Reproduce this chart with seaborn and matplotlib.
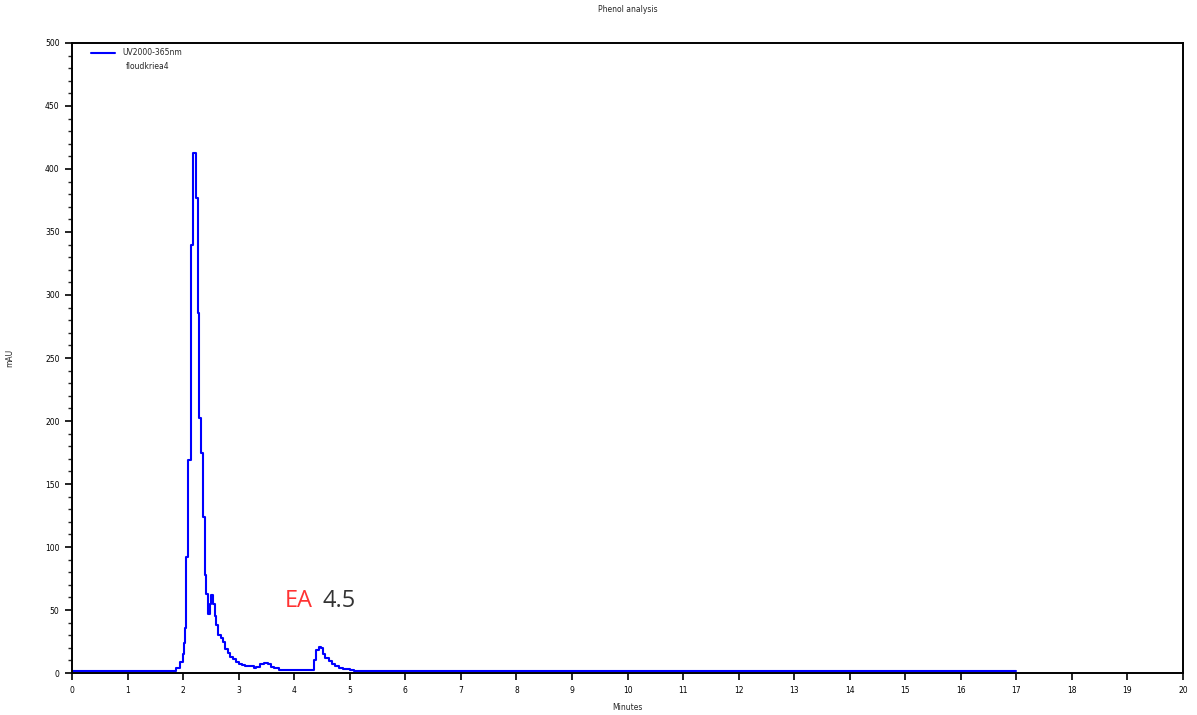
import matplotlib
matplotlib.use("Agg")
import matplotlib.pyplot as plt
from matplotlib.ticker import MultipleLocator
import seaborn as sns
import pandas as pd

# Chromatogram trace (retention time in minutes, absorbance in mAU)
time_min = [0.00, 1.82, 1.88, 1.94, 1.99, 2.01, 2.03, 2.05, 2.09, 2.14, 2.18,
            2.21, 2.23, 2.26, 2.29, 2.33, 2.36, 2.39, 2.42, 2.45, 2.48, 2.51,
            2.54, 2.57, 2.60, 2.63, 2.68, 2.72, 2.76, 2.80, 2.85, 2.90, 2.95,
            3.00, 3.06, 3.12, 3.20, 3.27, 3.32, 3.38, 3.45, 3.52, 3.58, 3.64,
            3.72, 4.32, 4.36, 4.40, 4.44, 4.48, 4.52, 4.56, 4.62, 4.68, 4.74,
            4.80, 4.88, 5.00, 5.07, 17.00]
signal_mau = [1.5, 1.5, 4, 9, 15, 24, 36, 92, 169, 340, 413,
              413, 377, 286, 202, 175, 124, 78, 63, 47, 55, 62,
              55, 45, 38, 30, 28, 25, 19, 16, 13, 11, 9,
              7.5, 6, 5.5, 5.5, 4, 5, 7, 8, 7, 5, 4,
              2.5, 2.5, 10, 18, 21, 20, 15, 12, 9.5, 7.5, 5.5,
              4, 3, 2.5, 1.5, 1.5]

x_ticks = list(range(0, 21))
y_ticks = list(range(0, 501, 50))

trace = pd.DataFrame({"Minutes": time_min, "mAU": signal_mau})

sns.set_style("ticks")
plt.rcParams["font.family"] = ["DejaVu Sans"]

fig = plt.figure(figsize=(11.97, 7.15), dpi=100)
ax = fig.add_axes([0.0602, 0.0587, 0.9281, 0.8812])

sns.lineplot(data=trace, x="Minutes", y="mAU", ax=ax, color="#0000ff",
             linewidth=1.5, drawstyle="steps-post", label="UV2000-365nm")

ax.set_xlim(0, 20)
ax.set_ylim(0, 500)
ax.set_xticks(x_ticks)
ax.set_yticks(y_ticks)
ax.yaxis.set_minor_locator(MultipleLocator(10))
ax.tick_params(axis="both", which="major", direction="out", length=5,
               width=1.2, labelsize=5.5, colors="black", pad=4)
ax.tick_params(axis="y", which="minor", direction="out", length=3, width=1.0)

for side in ["top", "right", "bottom", "left"]:
    ax.spines[side].set_visible(True)
    ax.spines[side].set_linewidth(1.4)
    ax.spines[side].set_color("black")

ax.set_xlabel("Minutes", fontsize=5.5, labelpad=6)
ax.set_ylabel("mAU", fontsize=5.5, labelpad=22)
ax.set_title("Phenol analysis", fontsize=5.5, pad=22)

leg = ax.legend(loc="upper left", bbox_to_anchor=(0.012, 1.0), frameon=False,
                fontsize=5.5, handlelength=3.2, handletextpad=1.0,
                borderaxespad=0.3)
ax.text(0.0487, 0.962, "floudkriea4", transform=ax.transAxes, fontsize=5.5,
        va="center", ha="left")

# Peak annotation
ax.text(3.83, 57, "EA", color="#ff3333", fontsize=17, family="Open Sans",
        va="center", ha="left")
ax.text(4.5, 57, "4.5", color="#333333", fontsize=17, family="Open Sans",
        va="center", ha="left")

fig.savefig("out.png", dpi=100)
